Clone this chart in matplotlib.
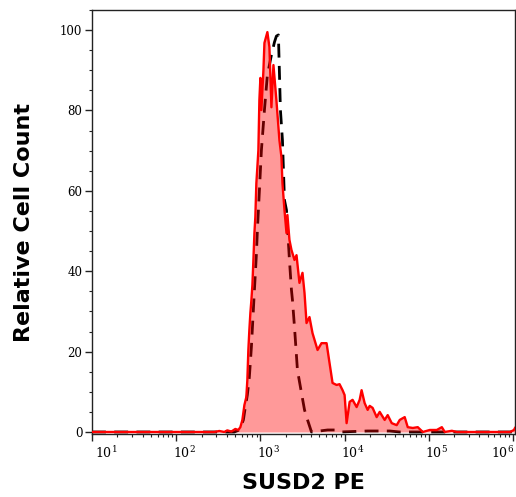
import numpy as np
import matplotlib
matplotlib.use("Agg")
import matplotlib.pyplot as plt
import matplotlib.transforms as mtransforms
from matplotlib.ticker import LogLocator, MultipleLocator, NullFormatter

# ---- data: SUSD2 PE stained sample (red, filled) ----
sample_log10 = [1.000, 2.452, 2.512, 2.571, 2.607, 2.655, 2.702, 2.738, 2.762, 2.786,
                2.810, 2.833, 2.845, 2.857, 2.869, 2.881, 2.893, 2.905, 2.917, 2.929,
                2.940, 2.952, 2.964, 2.976, 2.988, 3.000, 3.012, 3.036, 3.048, 3.083,
                3.107, 3.131, 3.155, 3.190, 3.226, 3.250, 3.262, 3.286, 3.310, 3.321,
                3.345, 3.369, 3.405, 3.429, 3.464, 3.500, 3.524, 3.548, 3.583, 3.619,
                3.679, 3.726, 3.786, 3.821, 3.857, 3.905, 3.940, 3.976, 4.000, 4.024,
                4.060, 4.095, 4.143, 4.179, 4.202, 4.238, 4.274, 4.298, 4.333, 4.381,
                4.417, 4.476, 4.512, 4.560, 4.619, 4.655, 4.714, 4.750, 4.810, 4.869,
                4.929, 5.012, 5.095, 5.155, 5.190, 5.274, 5.333, 5.964, 6.012, 6.024]
sample_count = [0.0, 0.0, 0.25, 0.0, 0.4, 0.1, 0.75, 0.5, 1.2, 3.0,
                6.7, 8.7, 12.9, 20.4, 25.4, 29.6, 32.8, 36.6, 42.8, 49.5,
                53.5, 61.9, 65.9, 70.1, 82.6, 88.1, 80.1, 90.0, 96.8, 99.5,
                95.8, 80.8, 91.3, 82.6, 72.6, 68.4, 61.9, 55.2, 49.5, 54.0,
                47.8, 45.3, 42.8, 44.0, 37.1, 39.6, 34.6, 27.1, 28.6, 24.6,
                20.4, 22.1, 22.1, 17.2, 12.2, 11.7, 11.9, 10.4, 9.2, 2.2,
                7.5, 8.0, 6.2, 8.0, 10.4, 7.2, 5.5, 6.5, 6.0, 3.7,
                5.0, 3.0, 4.2, 2.2, 1.7, 3.0, 3.7, 1.2, 1.0, 1.2,
                0.0, 0.5, 0.5, 1.2, 0.0, 0.3, 0.0, 0.0, 0.5, 1.0]

# ---- data: isotype control (black dashed) ----
control_log10 = [1.000, 2.690, 2.750, 2.798, 2.821, 2.845, 2.869, 2.893, 2.929, 2.952,
                 2.964, 2.988, 3.012, 3.048, 3.083, 3.131, 3.167, 3.190, 3.214, 3.238,
                 3.262, 3.286, 3.310, 3.345, 3.369, 3.381, 3.405, 3.440, 3.488, 3.524,
                 3.560, 3.607, 3.798, 3.893, 3.940, 4.274, 4.536, 4.655, 6.024]
control_count = [0.0, 0.0, 0.5, 3.0, 6.2, 9.2, 13.7, 21.1, 35.3, 44.0,
                 50.0, 60.0, 70.1, 80.1, 88.8, 93.8, 97.0, 98.5, 98.8, 80.1,
                 72.6, 57.7, 55.2, 42.8, 35.3, 32.8, 26.1, 15.4, 9.7, 5.5,
                 3.0, 0.0, 0.5, 0.5, 0.0, 0.25, 0.25, 0.0, 0.0]

y_ticks = [0, 20, 40, 60, 80, 100]
x_decades = [1, 2, 3, 4, 5, 6]
x_label = "SUSD2 PE"
y_label = "Relative Cell Count"

plt.rcParams['mathtext.fontset'] = 'dejavuserif'

fig = plt.figure(figsize=(5.16, 4.97), dpi=100)
ax = fig.add_axes([92/516, 1 - 434/497, (515 - 92)/516, (434 - 10)/497])

sx = 10 ** np.array(sample_log10)
cx = 10 ** np.array(control_log10)

ax.plot(cx, control_count, color='black', lw=2.0, dashes=(5, 3), zorder=2)
ax.fill_between(sx, sample_count, 0, color='red', alpha=0.4, lw=0, zorder=3)
ax.plot(sx, sample_count, color='#ff0000', lw=1.7, zorder=4)

ax.set_xscale('log')
ax.set_xlim(10 ** 1, 10 ** 6.024)
ax.set_ylim(-0.5, 105)

ax.set_xticks([10 ** d for d in x_decades])
ax.set_xticklabels([r'$10^{%d}$' % d for d in x_decades], fontsize=9, family='DejaVu Serif')
ax.xaxis.set_minor_locator(LogLocator(base=10, subs=np.arange(2, 10), numticks=100))
ax.xaxis.set_minor_formatter(NullFormatter())
ax.set_yticks(y_ticks)
ax.set_yticklabels([str(v) for v in y_ticks], fontsize=8.5, family='DejaVu Serif')
ax.yaxis.set_minor_locator(MultipleLocator(5))

ax.tick_params(axis='both', which='major', length=5, width=1.0, color='#222222', pad=2)
ax.tick_params(axis='both', which='minor', length=2.5, width=0.8, color='#222222')
ax.tick_params(axis='x', which='major', pad=3)

# horizontal shift (pixels) of each decade label relative to its tick
label_shift_px = [14, 8, 8, 8, 8, -10]
for lab, dx in zip(ax.get_xticklabels(), label_shift_px):
    off = mtransforms.ScaledTranslation(dx/100, 0, fig.dpi_scale_trans)
    lab.set_transform(lab.get_transform() + off)

for s in ax.spines.values():
    s.set_color('#222222')
    s.set_linewidth(1.0)

fig.text(303.5/516, 1 - 483/497, x_label, ha='center', va='center',
         fontsize=16, fontweight='bold', family='DejaVu Sans')
fig.text(24/516, 1 - 222/497, y_label, ha='center', va='center', rotation=90,
         fontsize=16, fontweight='bold', family='DejaVu Sans')

fig.savefig('out.png', dpi=100)
